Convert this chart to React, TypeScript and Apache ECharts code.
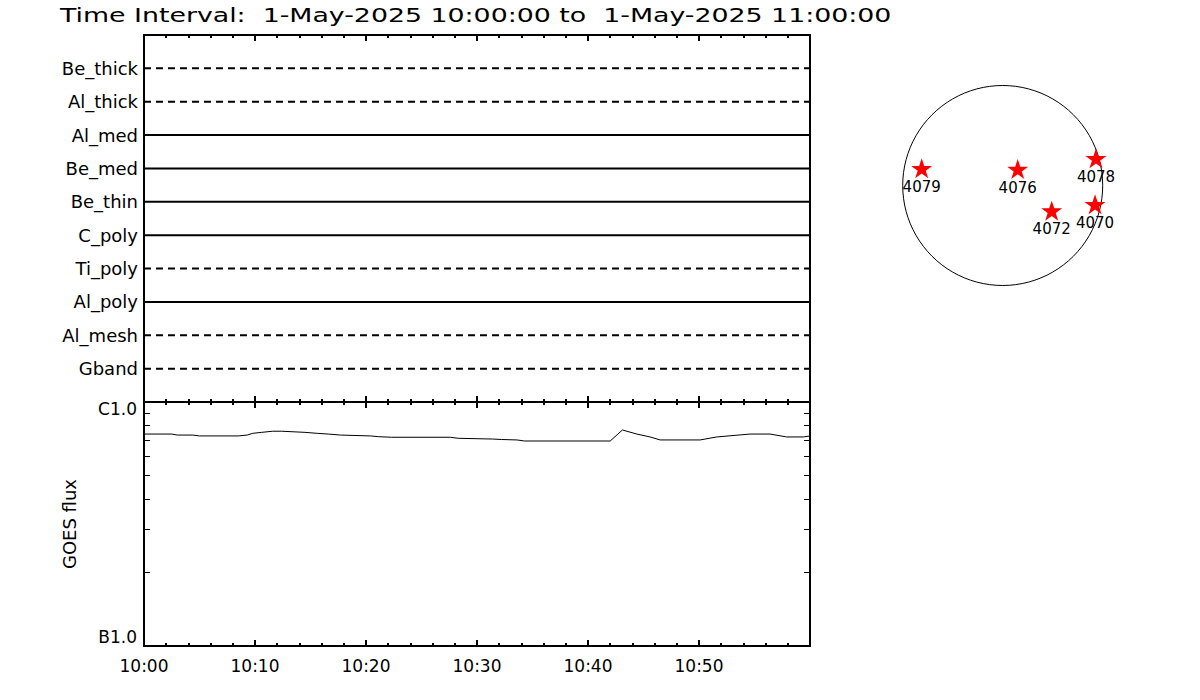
import React, { useEffect, useRef } from 'react';
import * as echarts from 'echarts';

const titleText = 'Time Interval:  1-May-2025 10:00:00 to  1-May-2025 11:00:00';
const startTime = Date.UTC(2025, 4, 1, 10, 0, 0);
const endTime = Date.UTC(2025, 4, 1, 11, 0, 0);
const tickIntervalMs = 10 * 60 * 1000;

const filterNames = ['Be_thick', 'Al_thick', 'Al_med', 'Be_med', 'Be_thin', 'C_poly', 'Ti_poly', 'Al_poly', 'Al_mesh', 'Gband'];
const filterDashed = [true, true, false, false, false, false, true, false, true, true];

const goesMinutes = [0, 2.5, 3, 4.4, 5, 8.5, 9.3, 9.8, 10.6, 11.6, 12.4, 14.5, 15.6, 16.6, 17.7, 20.4, 21.1, 22.3, 27.6, 28.3, 31.4, 32.2, 33.6, 34.3, 42.0, 43.1, 44.4, 45.6, 46.5, 50.1, 51.6, 53.7, 54.6, 56.4, 57.9, 59.4, 60];
const goesFlux = [7.39, 7.39, 7.32, 7.32, 7.26, 7.26, 7.32, 7.44, 7.51, 7.59, 7.59, 7.51, 7.44, 7.39, 7.32, 7.26, 7.21, 7.17, 7.17, 7.10, 7.05, 7.02, 6.99, 6.92, 6.92, 7.68, 7.39, 7.19, 6.99, 6.99, 7.19, 7.33, 7.39, 7.39, 7.19, 7.19, 7.26];
const goesUnit = 1e-7;
const goesTickValues = [1e-7, 2e-7, 3e-7, 4e-7, 5e-7, 6e-7, 7e-7, 8e-7, 9e-7, 1e-6];
const goesLabelValues = [1e-7, 1e-6];
const goesLabelTexts = ['B1.0', 'C1.0'];

const solarRadius = 953;
const regionNames = ['4079', '4076', '4078', '4070', '4072'];
const regionX = [-772, 143, 889, 880, 467];
const regionY = [164, 157, 259, -179, -240];

const FONT = 'DejaVu Sans';
const BLACK = '#000000';
const STAR = 'path://M50,0 L61.8,35.1 L98.9,35.1 L68.9,56.8 L80.3,91.9 L50,70.2 L19.7,91.9 L31.1,56.8 L1.1,35.1 L38.2,35.1 Z';

function fmtTime(v: number) {
  const d = new Date(v);
  const h = String(d.getUTCHours()).padStart(2, '0');
  const m = String(d.getUTCMinutes()).padStart(2, '0');
  return `${h}:${m}`;
}

function timeAxis(gridIndex: number, position: 'top' | 'bottom', showLabels: boolean) {
  return {
    type: 'value',
    gridIndex,
    position,
    min: startTime,
    max: endTime,
    interval: tickIntervalMs,
    axisLine: { show: true, onZero: false, lineStyle: { color: BLACK, width: 2 } },
    axisTick: { show: true, inside: true, length: 6, lineStyle: { color: BLACK, width: 2 } },
    minorTick: { show: true, splitNumber: 5, length: 3, lineStyle: { color: BLACK, width: 2 } },
    splitLine: { show: false },
    axisLabel: {
      show: showLabels,
      showMaxLabel: false,
      margin: 11,
      formatter: (v: number) => fmtTime(v),
      color: BLACK,
      fontFamily: FONT,
      fontSize: 17,
    },
  };
}

export default function App() {
  const ref = useRef<HTMLDivElement>(null);

  useEffect(() => {
    document.body.style.margin = '0';
    if (!ref.current) return;
    const chart = echarts.init(ref.current, undefined, { renderer: 'svg' });

    const filterSeries = filterNames.map((name, i) => ({
      type: 'line',
      name,
      xAxisIndex: 0,
      yAxisIndex: 0,
      data: [
        [startTime, filterNames.length - i],
        [endTime, filterNames.length - i],
      ],
      showSymbol: false,
      symbol: 'none',
      silent: true,
      lineStyle: { color: BLACK, width: 2, type: filterDashed[i] ? [7, 5] : 'solid' },
    }));

    const option: any = {
      animation: false,
      backgroundColor: '#ffffff',
      textStyle: { fontFamily: FONT },
      graphic: [
        {
          type: 'text',
          x: 60,
          y: 15,
          scaleX: 1.34,
          style: {
            text: titleText,
            fill: BLACK,
            font: `20px "${FONT}"`,
            textVerticalAlign: 'middle',
            verticalAlign: 'middle',
          },
        },
      ],
      grid: [
        { left: 144, top: 35, width: 666, height: 367 },
        { left: 144, top: 402, width: 666, height: 244 },
        { left: 902.7, top: 85.5, width: 200, height: 200 },
      ],
      xAxis: [
        timeAxis(0, 'bottom', false),
        timeAxis(0, 'top', false),
        timeAxis(1, 'bottom', true),
        timeAxis(1, 'top', false),
        { type: 'value', gridIndex: 2, min: -solarRadius, max: solarRadius, show: false },
      ],
      yAxis: [
        {
          type: 'value',
          gridIndex: 0,
          position: 'left',
          min: 0,
          max: filterNames.length + 1,
          interval: 1,
          axisLine: { show: true, lineStyle: { color: BLACK, width: 2 } },
          axisTick: { show: false },
          splitLine: { show: false },
          axisLabel: {
            margin: 6,
            color: BLACK,
            fontFamily: FONT,
            fontSize: 18,
            formatter: (v: number) => {
              const idx = filterNames.length - v;
              return idx >= 0 && idx < filterNames.length && v > 0 ? filterNames[idx] : '';
            },
          },
        },
        {
          type: 'value',
          gridIndex: 0,
          position: 'right',
          min: 0,
          max: filterNames.length + 1,
          axisLine: { show: true, lineStyle: { color: BLACK, width: 2 } },
          axisTick: { show: false },
          splitLine: { show: false },
          axisLabel: { show: false },
        },
        {
          type: 'log',
          logBase: 10,
          gridIndex: 1,
          position: 'left',
          min: goesTickValues[0],
          max: goesTickValues[goesTickValues.length - 1],
          name: 'GOES flux',
          nameLocation: 'middle',
          nameGap: 66,
          nameRotate: 90,
          nameTextStyle: { color: BLACK, fontFamily: FONT, fontSize: 18 },
          axisLine: { show: true, lineStyle: { color: BLACK, width: 2 } },
          axisTick: { show: true, inside: true, length: 6, customValues: goesTickValues, lineStyle: { color: BLACK, width: 1 } },
          minorTick: { show: false },
          splitLine: { show: false },
          axisLabel: {
            customValues: goesLabelValues,
            margin: 7,
            color: BLACK,
            fontFamily: FONT,
            fontSize: 17,
            formatter: (v: number) => {
              const idx = v < 3e-7 ? 0 : 1;
              return idx === 0 ? `{b|${goesLabelTexts[0]}}` : `{c|${goesLabelTexts[1]}}`;
            },
            rich: {
              b: { fontFamily: FONT, fontSize: 17, color: BLACK, padding: [0, 0, 18, 0] },
              c: { fontFamily: FONT, fontSize: 17, color: BLACK, padding: [14, 0, 0, 0] },
            },
          },
        },
        {
          type: 'log',
          logBase: 10,
          gridIndex: 1,
          position: 'right',
          min: goesTickValues[0],
          max: goesTickValues[goesTickValues.length - 1],
          axisLine: { show: true, lineStyle: { color: BLACK, width: 2 } },
          axisTick: { show: true, inside: true, length: 6, customValues: goesTickValues, lineStyle: { color: BLACK, width: 1 } },
          minorTick: { show: false },
          splitLine: { show: false },
          axisLabel: { show: false },
        },
        { type: 'value', gridIndex: 2, min: -solarRadius, max: solarRadius, show: false },
      ],
      series: [
        ...filterSeries,
        {
          type: 'line',
          name: 'GOES',
          xAxisIndex: 2,
          yAxisIndex: 2,
          data: goesMinutes.map((m, i) => [startTime + m * 60000, goesFlux[i] * goesUnit]),
          showSymbol: false,
          symbol: 'none',
          silent: true,
          lineStyle: { color: BLACK, width: 1 },
        },
        {
          type: 'custom',
          name: 'disk',
          xAxisIndex: 4,
          yAxisIndex: 4,
          silent: true,
          clip: false,
          data: [[0, 0]],
          renderItem: (params: any, api: any) => {
            const c = api.coord([api.value(0), api.value(1)]);
            const r = api.size([solarRadius, 0])[0];
            return {
              type: 'circle',
              shape: { cx: c[0], cy: c[1], r },
              style: { fill: 'none', stroke: BLACK, lineWidth: 1 },
            };
          },
        },
        {
          type: 'scatter',
          name: 'regions',
          xAxisIndex: 4,
          yAxisIndex: 4,
          silent: true,
          symbol: STAR,
          symbolSize: [21, 20],
          itemStyle: { color: '#ff0000', opacity: 1 },
          data: regionNames.map((n, i) => ({ name: n, value: [regionX[i], regionY[i]] })),
          label: {
            show: true,
            position: 'bottom',
            distance: 1,
            formatter: (p: any) => p.name,
            color: BLACK,
            fontFamily: FONT,
            fontSize: 15,
          },
        },
      ],
    };

    chart.setOption(option);
    return () => {
      chart.dispose();
    };
  }, []);

  return <div ref={ref} style={{ width: 1200, height: 700 }} />;
}
